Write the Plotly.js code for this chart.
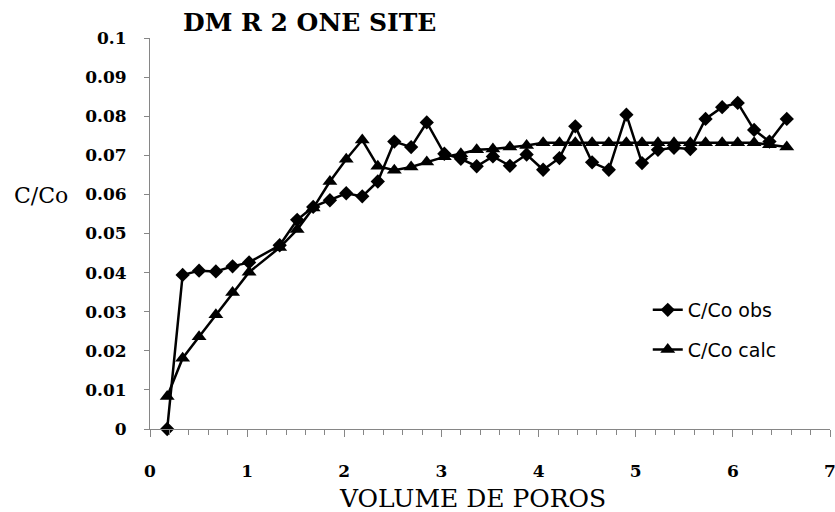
<!DOCTYPE html>
<html>
<head>
<meta charset="utf-8">
<script src="https://cdn.plot.ly/plotly-3.0.1.min.js"></script>
<style>html,body{margin:0;padding:0;background:#fff;}#chart{width:835px;height:512px;}</style>
</head>
<body>
<div id="chart"></div>
<script>
// Pore volume (x)
var poreVolume = [0.177, 0.336, 0.505, 0.678, 0.85, 1.02, 1.335, 1.515, 1.68, 1.852,
  2.02, 2.185, 2.345, 2.515, 2.688, 2.849, 3.03, 3.2, 3.363, 3.53,
  3.705, 3.877, 4.047, 4.215, 4.378, 4.551, 4.723, 4.904, 5.065, 5.229,
  5.394, 5.562, 5.719, 5.89, 6.05, 6.219, 6.377, 6.555];
// C/Co observed (diamonds)
var ccoObs = [0.0, 0.0394, 0.0405, 0.0403, 0.0416, 0.0426, 0.047, 0.0535, 0.0568, 0.0585,
  0.0603, 0.0595, 0.0633, 0.0735, 0.0721, 0.0784, 0.0704, 0.0691, 0.0672, 0.0697,
  0.0673, 0.0702, 0.0663, 0.0693, 0.0774, 0.0682, 0.0663, 0.0804, 0.068, 0.0714,
  0.0719, 0.0716, 0.0793, 0.0823, 0.0834, 0.0765, 0.0735, 0.0793];
// C/Co calculated (triangles)
var ccoCalc = [0.0083, 0.0181, 0.0236, 0.0292, 0.0349, 0.0401, 0.0464, 0.051, 0.0565, 0.0633,
  0.069, 0.0739, 0.0672, 0.0662, 0.067, 0.0683, 0.0696, 0.0704, 0.0714, 0.0716,
  0.0721, 0.0725, 0.0732, 0.0732, 0.0732, 0.0732, 0.0732, 0.0732, 0.0732, 0.0732,
  0.0732, 0.0732, 0.0732, 0.0732, 0.0732, 0.0732, 0.0727, 0.0721];
var seriesNames = ['C/Co obs', 'C/Co calc'];
var chartTitle = 'DM R 2 ONE SITE';
var xTitle = 'VOLUME DE POROS';
var yTitle = 'C/Co';

var axisGray = '#868686';
var serif = 'DejaVu Serif, Liberation Serif, serif';

var traces = [
  {x: poreVolume, y: ccoObs, name: seriesNames[0], type: 'scatter', mode: 'lines+markers',
   legendgroup: 'a', cliponaxis: false,
   line: {color: '#000', width: 2.5}, marker: {symbol: 'diamond', size: 11, color: '#000'}},
  {x: poreVolume, y: ccoCalc, name: seriesNames[1], type: 'scatter', mode: 'lines+markers',
   legendgroup: 'b', cliponaxis: false,
   line: {color: '#000', width: 2.5}, marker: {symbol: 'triangle-up', size: 13, color: '#000'}}
];

var layout = {
  width: 835, height: 512,
  margin: {l: 150, r: 5, t: 38, b: 83, pad: 0},
  paper_bgcolor: '#fff', plot_bgcolor: '#fff',
  showlegend: true,
  title: {text: chartTitle, font: {family: serif, size: 25, weight: 'bold', color: '#000'},
    xref: 'paper', x: 0.0485, xanchor: 'left', yref: 'container', y: 0.957, yanchor: 'middle'},
  legend: {x: 0.732, y: 0.353, xanchor: 'left', yanchor: 'top', bgcolor: 'rgba(0,0,0,0)',
    borderwidth: 0, traceorder: 'grouped', tracegroupgap: 12,
    font: {family: 'DejaVu Sans, Liberation Sans, sans-serif', size: 19, color: '#000'}},
  xaxis: {range: [0, 7], tick0: 0, dtick: 1, showgrid: false, zeroline: false,
    showline: true, linecolor: axisGray, linewidth: 1,
    ticks: 'outside', ticklen: 7, tickcolor: axisGray, tickwidth: 1,
    ticklabelstandoff: 20, ticklabeloverflow: 'allow',
    minor: {dtick: 0.2, tick0: 0, ticks: 'outside', ticklen: 5, tickcolor: axisGray, showgrid: false},
    tickfont: {family: serif, size: 17, weight: 'bold', color: '#000'}},
  yaxis: {range: [0, 0.1], tick0: 0, dtick: 0.01, showgrid: false, zeroline: false,
    showline: true, linecolor: axisGray, linewidth: 1,
    ticks: 'outside', ticklen: 5, tickcolor: axisGray, tickwidth: 1,
    ticklabelstandoff: 14, ticklabeloverflow: 'allow',
    tickfont: {family: serif, size: 17, weight: 'bold', color: '#000'}},
  annotations: [
    {text: xTitle, xref: 'paper', yref: 'paper', x: (472 - 150) / 680, y: -(498 - 429) / 391,
     xanchor: 'center', yanchor: 'middle', showarrow: false,
     font: {family: serif, size: 25, color: '#000'}},
    {text: yTitle, xref: 'paper', yref: 'paper', x: (41 - 150) / 680, y: (429 - 195) / 391,
     xanchor: 'center', yanchor: 'middle', showarrow: false,
     font: {family: serif, size: 22, color: '#000'}}
  ]
};

Plotly.newPlot('chart', traces, layout, {displayModeBar: false, staticPlot: true});
</script>
</body>
</html>
